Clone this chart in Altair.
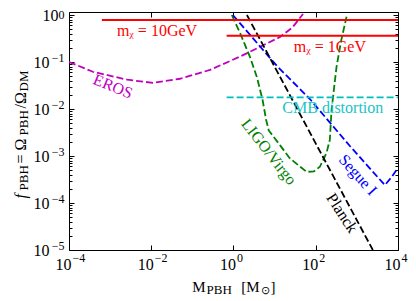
import altair as alt
import pandas as pd

FONT = "Liberation Serif"
PAD_TOP = 4
PLOT_H = 238
X_MIN, X_MAX = 1e-4, 1e4
Y_MIN, Y_MAX = 1e-5, 10 ** (3 / 47)

# ---- curves (M in solar masses, f = Omega_PBH/Omega_DM)
eros_m = [1e-4, 3.8e-4, 2.6e-3, 1.1e-2, 5.0e-2, 0.27, 1.43, 4.4, 13.5, 27.5, 49]
eros_f = [0.10, 0.062, 0.042, 0.036, 0.044, 0.068, 0.13, 0.21, 0.34, 0.55, 1.05]

ligo_m = [0.91, 1.43, 2.5, 3.7, 5.1, 6.2, 7.2, 13.5, 23, 41, 60, 90, 126, 182, 220, 242, 320, 420, 561]
ligo_f = [1.0, 0.42, 0.13, 0.048, 0.0155, 5.9e-3, 3.5e-3, 1.7e-3, 9.1e-4, 6.0e-4, 4.6e-4,
          4.7e-4, 5.9e-4, 1.15e-3, 2.2e-3, 9.5e-3, 0.079, 0.3, 0.92]

segue_m = [0.966, 11.4, 72, 676, 4790, 7080, 1e4]
segue_f = [1.0, 0.082, 0.0163, 1.63e-3, 2.4e-4, 3.6e-4, 5.6e-4]

planck_m = [2.12, 2443]
planck_f = [1.0, 1e-5]

cmb_m = [0.68, 1e4]
cmb_f = [0.0177, 0.0177]

dashed_names = ["EROS", "LIGO/Virgo", "Segue I", "Planck", "CMB distortion"]
dashed_colors = ["#bf00bf", "#008000", "#0000ff", "#000000", "#00bfbf"]

m10_m = [6.3e-4, 1e4]
m10_f = [0.78, 0.78]
m1_m = [0.68, 1e4]
m1_f = [0.36, 0.36]

# ---- in-plot labels
label_text = ["m\u1d6a = 10GeV", "m\u1d6a = 1GeV", "EROS", "LIGO/Virgo", "Segue I", "Planck", "CMB distortion"]
label_m = [0.0138, 220, 1.17e-3, 7.2, 1054, 431, 260]
label_f = [0.457, 0.208, 0.030, 1.22e-3, 3.94e-4, 6.1e-5, 0.0105]
label_angle = [0, 0, 22, 52, 48, 57, 0]
label_color = ["#ff0000", "#ff0000", "#bf00bf", "#008000", "#0000ff", "#000000", "#20c4c4"]

# ---- ticks
x_major = [1e-4, 1e-2, 1, 1e2, 1e4]
x_exponents = ["\u22124", "\u22122", "0", "2", "4"]
y_major = [1e-5, 1e-4, 1e-3, 1e-2, 1e-1, 1]
y_exponents = ["\u22125", "\u22124", "\u22123", "\u22122", "\u22121", "0"]
tick_base = "10"
y_minor = [k * 10.0 ** e for e in range(-5, 1) for k in range(2, 10)]

# ---- axis titles, as pieces (text, font size, italic); positions in page pixels
NB = "\u00a0"
x_title_parts = [("M", 15, False), ("PBH", 13, False), ("[M", 15, False), ("\u2299", 11, False), ("]", 15, False)]
x_title_pos = [122.7, 137, 171.7, 191, 201]
y_title_parts = [("f", 16, True), ("PBH", 13, False), (NB + "=" + NB + "\u03a9", 16, False), ("PBH", 13, False),
                 ("/\u03a9", 16, False), ("DM", 13, False)]
y_title_page = [198, 190, 163, 135, 108, 91]


def label_expr(values, labels):
    expr = "'" + labels[-1] + "'"
    for i in range(len(values) - 2, -1, -1):
        thr = (values[i] * values[i + 1]) ** 0.5
        expr = f"datum.value < {thr:.6g} ? '{labels[i]}' : ({expr})"
    return expr


rows = []
for name, ms, fs in zip(dashed_names, [eros_m, ligo_m, segue_m, planck_m, cmb_m],
                        [eros_f, ligo_f, segue_f, planck_f, cmb_f]):
    for i, (m, f) in enumerate(zip(ms, fs)):
        rows.append({"series": name, "m": m, "f": f, "order": i})
df_dashed = pd.DataFrame(rows)

rows = []
for name, ms, fs in [("10GeV", m10_m, m10_f), ("1GeV", m1_m, m1_f)]:
    for i, (m, f) in enumerate(zip(ms, fs)):
        rows.append({"series": name, "m": m, "f": f, "order": i})
df_red = pd.DataFrame(rows)

df_labels = pd.DataFrame({"m": label_m, "f": label_f, "label": label_text,
                          "angle": label_angle, "color": label_color})

xscale = alt.Scale(type="log", domain=[X_MIN, X_MAX], nice=False)
yscale = alt.Scale(type="log", domain=[Y_MIN, Y_MAX], nice=False)

MAJ, MIN = 5, 3


def tick_axis(orient, values, size):
    return alt.Axis(orient=orient, values=values, tickSize=size, offset=-size, labels=False,
                    domain=False, grid=False, title=None)


lines = alt.Chart(df_dashed).mark_line(strokeDash=[7, 3], strokeWidth=1.8, clip=True).encode(
    x=alt.X("m:Q", scale=xscale, axis=tick_axis("bottom", x_major, MAJ)),
    y=alt.Y("f:Q", scale=yscale, axis=tick_axis("left", y_major, MAJ)),
    color=alt.Color("series:N", scale=alt.Scale(domain=dashed_names, range=dashed_colors), legend=None),
    order="order:Q",
)

red = alt.Chart(df_red).mark_line(color="#ff0000", strokeWidth=2, clip=True).encode(
    x=alt.X("m:Q", scale=xscale, axis=None),
    y=alt.Y("f:Q", scale=yscale, axis=None),
    detail="series:N",
    order="order:Q",
)

texts = alt.Chart(df_labels).mark_text(font=FONT, fontSize=16, align="center", baseline="middle").encode(
    x=alt.X("m:Q", scale=xscale, axis=None),
    y=alt.Y("f:Q", scale=yscale, axis=None),
    text="label:N",
    color=alt.Color("color:N", scale=None),
    angle=alt.Angle("angle:Q", scale=None),
)


def axis_layer(channel, values, axis):
    df = pd.DataFrame({"v": values})
    if channel == "y":
        enc = {"y": alt.Y("v:Q", scale=yscale, axis=axis)}
    else:
        enc = {"x": alt.X("v:Q", scale=xscale, axis=axis)}
    return alt.Chart(df).mark_point(opacity=0).encode(**enc)


layers = [lines, red, texts]

# minor / mirrored ticks
layers.append(axis_layer("y", y_minor, tick_axis("left", y_minor, MIN)))
layers.append(axis_layer("y", y_major, tick_axis("right", y_major, MAJ)))
layers.append(axis_layer("y", y_minor, tick_axis("right", y_minor, MIN)))
layers.append(axis_layer("x", x_major, tick_axis("top", x_major, MAJ)))

# tick labels: "10" and the exponent as separate label sets
neg_y = [v for v in y_major if v < 0.5]
top_y = [v for v in y_major if v >= 0.5]
layers.append(axis_layer("y", neg_y, alt.Axis(
    orient="left", values=neg_y, ticks=False, domain=False, grid=False, title=None,
    labelExpr="'" + tick_base + "'", labelAlign="right", labelBaseline="middle",
    labelPadding=20, labelFontSize=16)))
layers.append(axis_layer("y", top_y, alt.Axis(
    orient="left", values=top_y, ticks=False, domain=False, grid=False, title=None,
    labelExpr="'" + tick_base + "'", labelAlign="right", labelBaseline="middle",
    labelPadding=11, labelFontSize=16)))
layers.append(axis_layer("y", neg_y, alt.Axis(
    orient="left", values=neg_y, ticks=False, domain=False, grid=False, title=None,
    labelExpr=label_expr(y_major, y_exponents), labelAlign="right", labelBaseline="middle",
    labelPadding=5, labelOffset=-5, labelFontSize=12)))
layers.append(axis_layer("y", top_y, alt.Axis(
    orient="left", values=top_y, ticks=False, domain=False, grid=False, title=None,
    labelExpr=label_expr(y_major, y_exponents), labelAlign="right", labelBaseline="middle",
    labelPadding=5, labelOffset=-1, labelFontSize=12)))

layers.append(axis_layer("x", x_major, alt.Axis(
    orient="bottom", values=x_major, ticks=False, domain=False, grid=False, title=None,
    labelExpr="'" + tick_base + "'", labelAlign="right", labelBaseline="top",
    labelPadding=6, labelOffset=2, labelFontSize=16)))
layers.append(axis_layer("x", x_major, alt.Axis(
    orient="bottom", values=x_major, ticks=False, domain=False, grid=False, title=None,
    labelExpr=label_expr(x_major, x_exponents), labelAlign="left", labelBaseline="top",
    labelPadding=2, labelOffset=3, labelFontSize=12)))

# axis titles built from pieces
for (txt, size, italic), pos in zip(x_title_parts, x_title_pos):
    sub = size < 15
    layers.append(axis_layer("x", [1], alt.Axis(
        orient="bottom", ticks=False, labels=False, domain=False, grid=False,
        title=txt, titleX=pos, titleY=43 if sub else 41, titleAlign="left",
        titleBaseline="alphabetic", titleFontSize=size,
        titleFontStyle="italic" if italic else "normal")))

for (txt, size, italic), page_y in zip(y_title_parts, y_title_page):
    sub = size < 15
    layers.append(axis_layer("y", [1], alt.Axis(
        orient="left", ticks=False, labels=False, domain=False, grid=False,
        title=txt, titleX=-42 if sub else -44, titleY=page_y - 8 - PAD_TOP, titleAngle=270,
        titleAlign="left", titleBaseline="alphabetic", titleFontSize=size,
        titleFontStyle="italic" if italic else "normal")))

chart = alt.layer(*layers).resolve_axis(x="independent", y="independent").properties(
    width=329, height=PLOT_H,
    autosize=alt.AutoSizeParams(type="none"),
    padding={"left": 61, "top": PAD_TOP, "right": 10, "bottom": 45},
).configure_view(stroke="#000000", strokeWidth=1).configure_axis(
    labelFont=FONT, labelColor="#000000", tickColor="#000000",
    titleFont=FONT, titleColor="#000000", titleFontWeight="normal",
)

chart.save("out.html", embed_options={"renderer": "svg", "actions": False})
